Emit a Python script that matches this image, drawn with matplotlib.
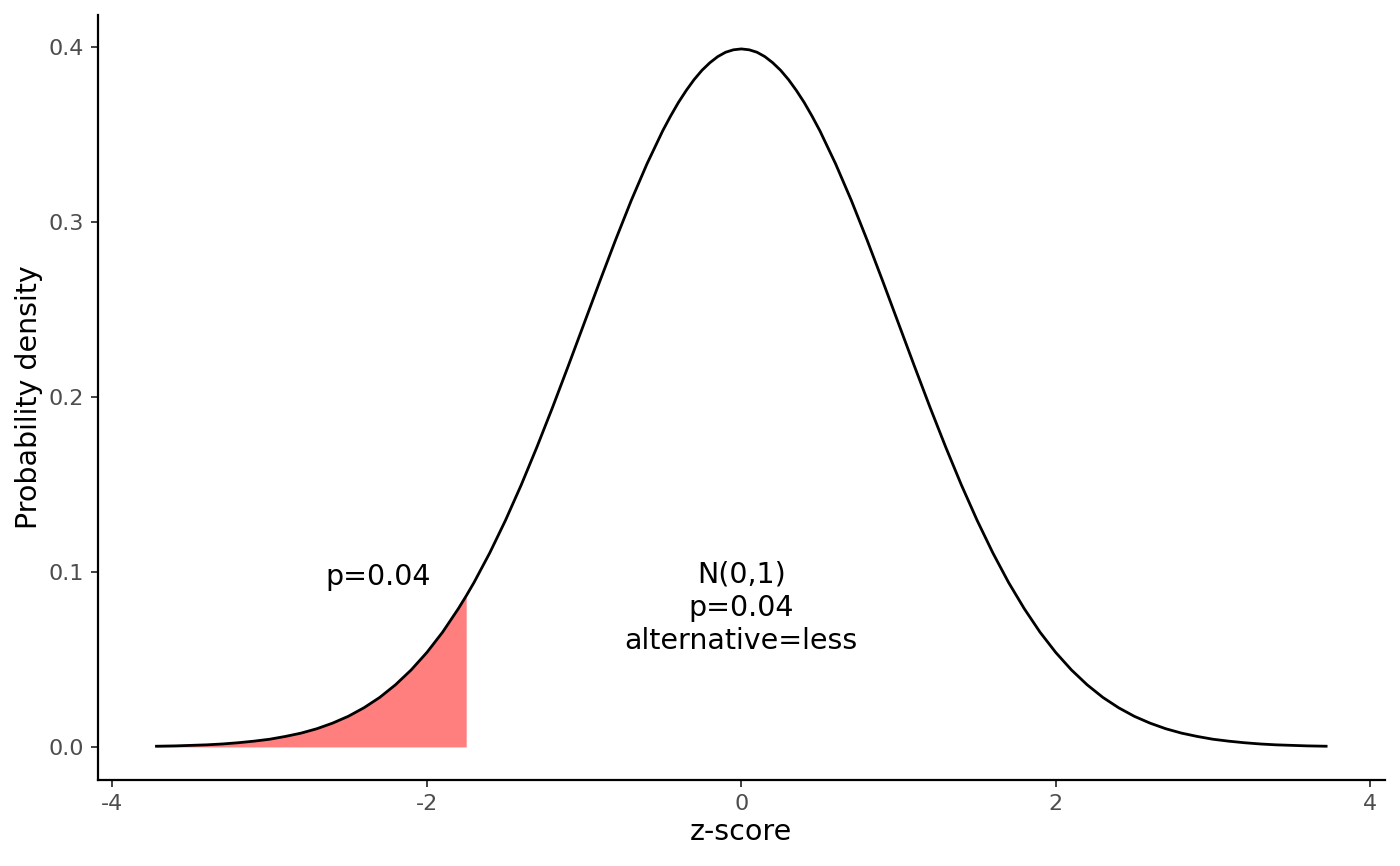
import numpy as np
import matplotlib
matplotlib.use("Agg")
import matplotlib.pyplot as plt

# density values (z-score, density)
z = [-3.72, -3.6, -3.5, -3.4, -3.3, -3.2, -3.1, -3.0, -2.9, -2.8, -2.7, -2.6, -2.5,
     -2.4, -2.3, -2.2, -2.1, -2.0, -1.9, -1.8, -1.75, -1.7, -1.6, -1.5, -1.4, -1.3,
     -1.2, -1.1, -1.0, -0.9, -0.8, -0.7, -0.6, -0.5, -0.45, -0.4, -0.35, -0.3,
     -0.25, -0.2, -0.15, -0.1, -0.05, 0.0, 0.05, 0.1, 0.15, 0.2, 0.25, 0.3, 0.35,
     0.4, 0.45, 0.5, 0.6, 0.7, 0.8, 0.9, 1.0, 1.1, 1.2, 1.3, 1.4, 1.5,
     1.6, 1.7, 1.8, 1.9, 2.0, 2.1, 2.2, 2.3, 2.4, 2.5, 2.6, 2.7, 2.8, 2.9, 3.0,
     3.1, 3.2, 3.3, 3.4, 3.5, 3.6, 3.72]
dens = [0.0004, 0.0006, 0.0009, 0.0012, 0.0017, 0.0024, 0.0033, 0.0044, 0.0060,
        0.0079, 0.0104, 0.0136, 0.0175, 0.0224, 0.0283, 0.0355, 0.0440, 0.0540,
        0.0656, 0.0790, 0.0863, 0.0940, 0.1109, 0.1295, 0.1497, 0.1714, 0.1942,
        0.2179, 0.2420, 0.2661, 0.2897, 0.3123, 0.3332, 0.3521, 0.3605, 0.3683,
        0.3752, 0.3814, 0.3867, 0.3910, 0.3945, 0.3970, 0.3984, 0.3989, 0.3984,
        0.3970, 0.3945, 0.3910, 0.3867, 0.3814, 0.3752, 0.3683, 0.3605, 0.3521,
        0.3332, 0.3123, 0.2897, 0.2661, 0.2420, 0.2179, 0.1942, 0.1714, 0.1497,
        0.1295, 0.1109, 0.0940, 0.0790, 0.0656, 0.0540, 0.0440, 0.0355, 0.0283,
        0.0224, 0.0175, 0.0136, 0.0104, 0.0079, 0.0060, 0.0044, 0.0033, 0.0024,
        0.0017, 0.0012, 0.0009, 0.0006, 0.0004]
z_crit = -1.75
p_text = "p=0.04"
info_text = "N(0,1)\np=0.04\nalternative=less"

z = np.array(z)
dens = np.array(dens)

fig = plt.figure(figsize=(14, 8.66), dpi=100)
ax = fig.add_axes([0.07, 0.0993, 0.919, 0.8834])

tail = z <= z_crit
ax.fill_between(z[tail], 0, dens[tail], color="#ff7f7f", linewidth=0)
ax.plot(z, dens, color="black", linewidth=2.0)

ax.text(-2.31, 0.097, p_text, ha="center", va="center", fontsize=20.5, color="black")
ax.text(0.0, 0.0794, info_text, ha="center", va="center", fontsize=20.5,
        color="black", linespacing=1.25)

ax.set_xlim(-4.092, 4.092)
ax.set_ylim(-0.0189, 0.4183)
ax.set_xticks([-4, -2, 0, 2, 4])
ax.set_xticklabels(["-4", "-2", "0", "2", "4"])
ax.set_yticks([0.0, 0.1, 0.2, 0.3, 0.4])
ax.set_yticklabels(["0.0", "0.1", "0.2", "0.3", "0.4"])

for s in ["top", "right"]:
    ax.spines[s].set_visible(False)
for s in ["left", "bottom"]:
    ax.spines[s].set_linewidth(1.6)
ax.tick_params(axis="both", length=5, width=1.3, color="#333333",
               labelsize=16, labelcolor="#4d4d4d", pad=5)

ax.set_xlabel("z-score", fontsize=20.5, labelpad=3)
ax.set_ylabel("Probability density", fontsize=20.5, labelpad=4)

fig.savefig("out.png", dpi=100)
